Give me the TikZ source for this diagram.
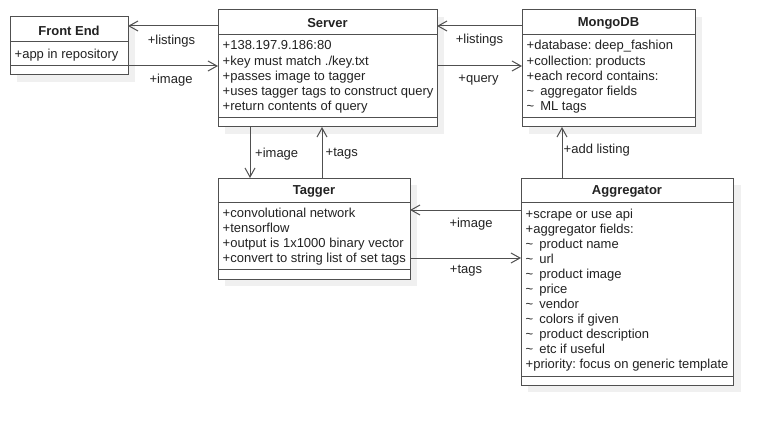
\documentclass[tikz,border=0pt]{standalone}
\usepackage{fontspec}
\setmainfont{Liberation Sans}
\usetikzlibrary{arrows.meta,calc}
\frenchspacing
\definecolor{linec}{HTML}{505050}
\definecolor{textc}{HTML}{222222}
\definecolor{shadowc}{HTML}{F0F0F0}
\tikzset{
  classbox/.style={draw=linec, line width=1pt, fill=white, inner sep=0pt, outer sep=0pt, anchor=north west},
  sepline/.style={draw=linec, line width=1pt},
  attr/.style={anchor=base west, inner sep=0pt, text=textc, font=\fontsize{13pt}{15pt}\selectfont\frenchspacing},
  head/.style={anchor=center, inner sep=0pt, text=textc, font=\fontsize{13pt}{15pt}\selectfont\bfseries},
  lbl/.style={anchor=center, inner sep=0pt, text=textc, font=\fontsize{13pt}{15pt}\selectfont},
  lblw/.style={anchor=west, inner sep=0pt, text=textc, font=\fontsize{13pt}{15pt}\selectfont},
  conn/.style={draw=linec, line width=1pt, -{Straight Barb[length=9pt,width=10pt]}},
}
\newcommand{\tl}{\textasciitilde\hspace{6pt}}
\begin{document}
\begin{tikzpicture}[x=1pt,y=-1pt]
\useasboundingbox (0,0) rectangle (773,425);
% shadows
\fill[shadowc] (17,24) rectangle (135,82);
\fill[shadowc] (225,17) rectangle (444,134);
\fill[shadowc] (529,17) rectangle (702,134);
\fill[shadowc] (225,185) rectangle (417,286);
\fill[shadowc] (528,185) rectangle (741,392);
% boxes
\node[classbox, minimum width=118pt, minimum height=58pt] (fe) at (10,17) {};
\node[classbox, minimum width=219pt, minimum height=117pt] (srv) at (218,10) {};
\node[classbox, minimum width=173pt, minimum height=117pt] (mdb) at (522,10) {};
\node[classbox, minimum width=192pt, minimum height=101pt] (tag) at (218,178) {};
\node[classbox, minimum width=212pt, minimum height=207pt] (agg) at (521,178) {};
% separators
\draw[sepline] (fe.west |- 0,42) -- (fe.east |- 0,42);
\draw[sepline] (fe.west |- 0,66) -- (fe.east |- 0,66);
\draw[sepline] (srv.west |- 0,34.5) -- (srv.east |- 0,34.5);
\draw[sepline] (srv.west |- 0,118) -- (srv.east |- 0,118);
\draw[sepline] (mdb.west |- 0,34.5) -- (mdb.east |- 0,34.5);
\draw[sepline] (mdb.west |- 0,118) -- (mdb.east |- 0,118);
\draw[sepline] (tag.west |- 0,202) -- (tag.east |- 0,202);
\draw[sepline] (tag.west |- 0,269.5) -- (tag.east |- 0,269.5);
\draw[sepline] (agg.west |- 0,202) -- (agg.east |- 0,202);
\draw[sepline] (agg.west |- 0,376) -- (agg.east |- 0,376);
% headers
\node[head] (feh) at (fe.north |- 0,30.5) {Front End};
\node[head] (srvh) at (srv.north |- 0,23.5) {Server};
\node[head] (mdbh) at (mdb.north |- 0,23.5) {MongoDB};
\node[head] (tagh) at (tag.north |- 0,191) {Tagger};
\node[head] (aggh) at (agg.north |- 0,191.5) {Aggregator};
% attributes
\node[attr] (fe1) at (14.5,58.5) {+app in repository};
\node[attr] (s1) at (222.5,50) {+138.197.9.186:80};
\node[attr] (s2) at (222.5,65.2) {+key must match ./key.txt};
\node[attr] (s3) at (222.5,80.4) {+passes image to tagger};
\node[attr] (s4) at (222.5,95.6) {+uses tagger tags to construct query};
\node[attr] (s5) at (222.5,110.8) {+return contents of query};
\node[attr] (m1) at (526.5,50) {+database: deep\_fashion};
\node[attr] (m2) at (526.5,65.2) {+collection: products};
\node[attr] (m3) at (526.5,80.4) {+each record contains:};
\node[attr] (m4) at (526.5,95.6) {\tl aggregator fields};
\node[attr] (m5) at (526.5,110.8) {\tl ML tags};
\node[attr] (t1) at (222.5,217) {+convolutional network};
\node[attr] (t2) at (222.5,232) {+tensorflow};
\node[attr] (t3) at (222.5,247) {+output is 1x1000 binary vector};
\node[attr] (t4) at (222.5,262) {+convert to string list of set tags};
\node[attr] (a1) at (525.5,218.5) {+scrape or use api};
\node[attr] (a2) at (525.5,233.5) {+aggregator fields:};
\node[attr] (a3) at (525.5,248.5) {\tl product name};
\node[attr] (a4) at (525.5,263.5) {\tl url};
\node[attr] (a5) at (525.5,278.5) {\tl product image};
\node[attr] (a6) at (525.5,293.5) {\tl price};
\node[attr] (a7) at (525.5,308.5) {\tl vendor};
\node[attr] (a8) at (525.5,323.5) {\tl colors if given};
\node[attr] (a9) at (525.5,338.5) {\tl product description};
\node[attr] (a10) at (525.5,353.5) {\tl etc if useful};
\node[attr] (a11) at (525.5,368.5) {+priority: focus on generic template};
% connectors
\draw[conn] (srv.west |- 0,26) -- (fe.east |- 0,26);
\draw[conn] (fe.east |- 0,66) -- (srv.west |- 0,66);
\draw[conn] (mdb.west |- 0,26) -- (srv.east |- 0,26);
\draw[conn] (srv.east |- 0,66) -- (mdb.west |- 0,66);
\draw[conn] (srv.south -| 250,0) -- (tag.north -| 250,0);
\draw[conn] (tag.north -| 322,0) -- (srv.south -| 322,0);
\draw[conn] (agg.west |- 0,210) -- (tag.east |- 0,210);
\draw[conn] (tag.east |- 0,258) -- (agg.west |- 0,258);
\draw[conn] (agg.north -| 562,0) -- (mdb.south -| 562,0);
% labels
\node[lbl] (l1) at (171.5,41.5) {+listings};
\node[lbl] (l2) at (171,80.5) {+image};
\node[lbl] (l3) at (479.5,40.5) {+listings};
\node[lbl] (l4) at (478.5,80.5) {+query};
\node[lblw] (l5) at (255,154) {+image};
\node[lblw] (l6) at (325.5,153.5) {+tags};
\node[lbl] (l7) at (471,224) {+image};
\node[lbl] (l8) at (466,270.5) {+tags};
\node[lblw] (l9) at (563.5,150.5) {+add listing};
\end{tikzpicture}
\end{document}
